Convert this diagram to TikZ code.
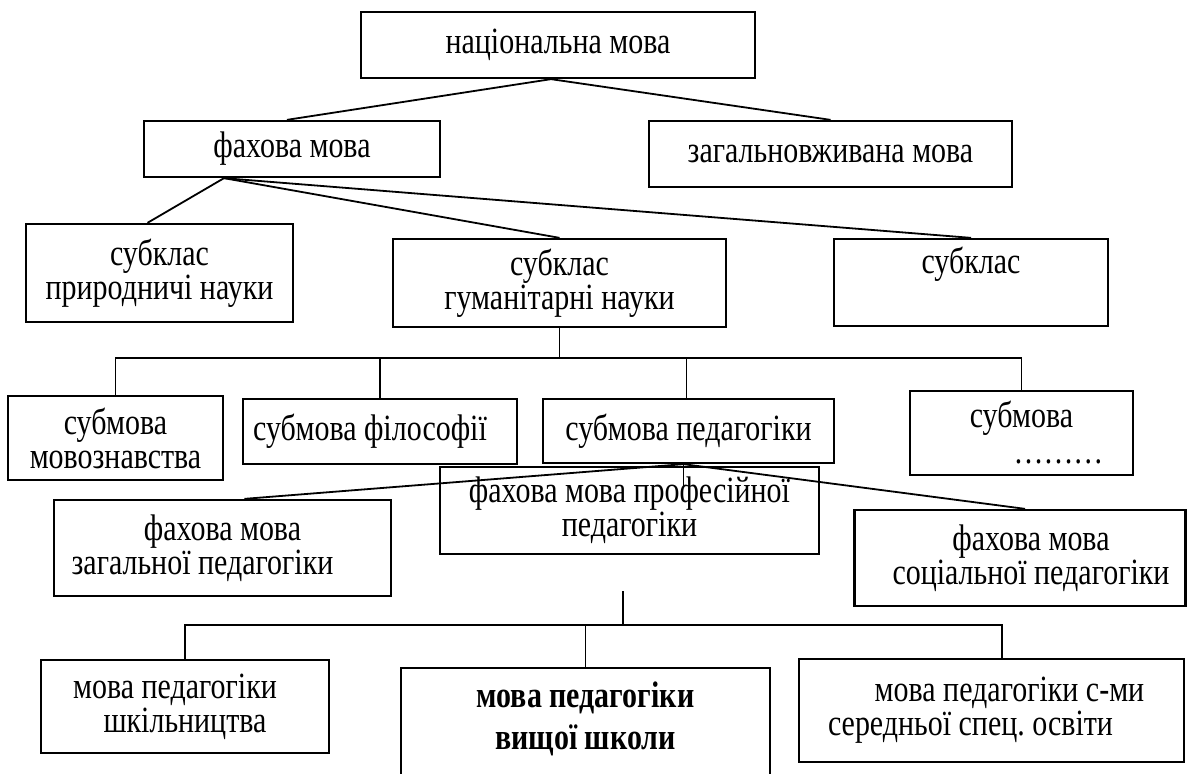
\documentclass[tikz,border=0pt]{standalone}
\usepackage{fontspec}
\setmainfont{Liberation Serif}[FakeStretch=0.81]
\usetikzlibrary{calc}
\frenchspacing
\begin{document}
\begin{tikzpicture}[x=1pt,y=-1pt,
  box/.style={draw, line width=2.3pt, inner sep=0pt, align=center, font=\fontsize{37}{34}\selectfont},
  conn/.style={line width=1.8pt}]
\clip (0,0) rectangle (1187,774);
\fill[white] (0,0) rectangle (1187,774);
% nodes
\node[box, minimum width=394pt, minimum height=66pt] (nat) at (558,45) {національна мова};
\node[box, minimum width=296pt, minimum height=56pt] (fax) at (292,149) {фахова мова};
\node[box, minimum width=363pt, minimum height=66pt] (zag) at (830.5,154) {загальновживана мова};
\node[box, minimum width=267pt, minimum height=98pt] (pryr) at (159.5,273) {субклас\\природничі науки};
\node[box, minimum width=333pt, minimum height=88pt] (hum) at (559.5,283) {субклас\\гуманітарні науки};
\node[box, minimum width=274pt, minimum height=87pt] (subr) at (971,282.5) {субклас\\\strut};
\node[box, minimum width=215pt, minimum height=84pt] (smz) at (115.5,438) {субмова\\мовознавства};
\node[box, minimum width=274pt, minimum height=65pt] (sph) at (380,431.5) {субмова філософії\hspace*{20pt}};
\node[box, minimum width=291pt, minimum height=64pt] (sped) at (688.5,431) {субмова педагогіки};
\node[box, minimum width=223pt, minimum height=84pt] (sdots) at (1021.5,433) {субмова\\[2pt]\hspace*{74pt}………};
\node[box, minimum width=379pt, minimum height=87pt] (prof) at (629.5,510.5) {фахова мова професійної\\педагогіки};
\node[box, minimum width=337pt, minimum height=96pt] (zagp) at (222.5,548) {фахова мова\\загальної педагогіки\hspace*{40pt}};
\node[box, minimum width=331pt, minimum height=96pt] (soc) at (1020,558) {\hspace*{22pt}фахова мова\\\hspace*{22pt}соціальної педагогіки};
\node[box, minimum width=288pt, minimum height=93pt] (shk) at (185,706.5) {мова педагогіки\hspace*{20pt}\\шкільництва};
\node[box, minimum width=369pt, minimum height=140pt, anchor=north] (vys) at (585.5,667) {};
\node[font=\bfseries\fontsize{37}{42}\selectfont, align=center, inner sep=0pt] (vyst) at (585.5,719) {мова педагогіки\\вищої школи};
\node[box, minimum width=385pt, minimum height=103pt] (sered) at (991.5,710.5) {\hspace*{36pt}мова педагогіки с-ми\\середньої спец. освіти\hspace*{42pt}};
% connectors
\coordinate (natb) at ([xshift=-7pt]nat.south);
\coordinate (faxt) at ([xshift=-5pt]fax.north);
\draw[conn] (faxt) -- (natb) -- (zag.north);
\coordinate (faxb) at ([xshift=-68pt]fax.south);
\coordinate (pryrt) at ([xshift=-12pt]pryr.north);
\draw[conn] (faxb) -- (pryrt);
\draw[conn] (faxb) -- (hum.north);
\draw[conn] (faxb) -- (subr.north);
\draw[conn] (hum.south) -- ++(0,30) coordinate (hb);
\draw[conn] (smz.north) -- (smz.north |- hb) -- (sdots.north |- hb) -- (sdots.north);
\draw[conn] (sph.north) -- (sph.north |- hb);
\coordinate (spedt) at ([xshift=-2pt]sped.north);
\draw[conn] (spedt) -- (spedt |- hb);
\coordinate (pb) at ([xshift=-5pt]sped.south);
\coordinate (zagpt) at ([xshift=22pt]zagp.north);
\coordinate (soct) at ([xshift=5pt]soc.north);
\draw[conn] (zagpt) -- (pb) -- (soct);
\draw[conn] (pb) -- ++(0,22) coordinate (pe);
\coordinate (vt) at (623,591);
\draw[conn] (vt) -- ++(0,34) coordinate (vb);
\coordinate (sert) at ([xshift=10.5pt]sered.north);
\draw[conn] (shk.north) -- (shk.north |- vb) -- (sert |- vb) -- (sert);
\draw[conn] (vys.north) -- (vys.north |- vb);
\end{tikzpicture}
\end{document}
